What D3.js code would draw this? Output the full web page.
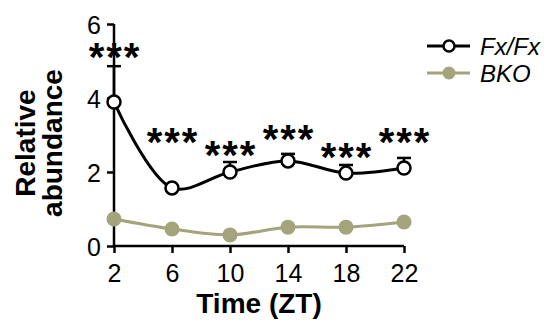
<!DOCTYPE html>
<html><head><meta charset="utf-8">
<script src="https://cdn.jsdelivr.net/npm/d3@7"></script>
<style>body{margin:0;background:#fff}</style>
</head><body><svg id="c" width="551" height="322"></svg>
<script>
const times = [2, 6, 10, 14, 18, 22];
const fxMean = [3.89, 1.57, 2.0, 2.30, 1.97, 2.11];
const fxErr = [0.97, 0.05, 0.27, 0.19, 0.22, 0.27];
const bkoMean = [0.73, 0.46, 0.30, 0.51, 0.51, 0.65];
const sigLabels = ["***", "***", "***", "***", "***", "***"];
const sigY = [5.24, 2.95, 2.59, 3.03, 2.54, 2.95];
const yTicks = [0, 2, 4, 6];
const seriesNames = ["Fx/Fx", "BKO"];

const svg = d3.select("#c");
const F = "Liberation Sans, Arial, Helvetica, sans-serif";
const x = d3.scaleLinear().domain([2, 22]).range([114, 404]);
const y = d3.scaleLinear().domain([0, 6]).range([246, 24]);
const green = "#a3a47c";

// axes
const yAx = svg.append("g").attr("transform", "translate(114,0)")
  .call(d3.axisLeft(y).tickValues(yTicks).tickFormat(d3.format("d")).tickSize(7).tickPadding(6));
const xAx = svg.append("g").attr("transform", "translate(0,246)")
  .call(d3.axisBottom(x).tickValues(times).tickFormat(d3.format("d")).tickSize(7).tickPadding(4));
[yAx, xAx].forEach(a => {
  a.select(".domain").attr("stroke", "#000").attr("stroke-width", 2.5);
  a.selectAll(".tick line").attr("stroke", "#000").attr("stroke-width", 2.5);
  a.selectAll("text").attr("font-family", F).attr("font-size", 25).attr("fill", "#000");
});
yAx.select(".domain").attr("d", `M0,${y(6)}V${y(0)}`);
yAx.selectAll(".tick text").attr("dy", "0.36em");
xAx.select(".domain").attr("d", `M${x(2)},0H${x(22)}`);
xAx.selectAll(".tick text").attr("y", 36).attr("dy", 0);

// lines
const line = d3.line().curve(d3.curveCatmullRom.alpha(0.5)).x(d => x(d[0])).y(d => y(d[1]));
svg.append("path").datum(times.map((t, i) => [t, bkoMean[i]]))
  .attr("d", line).attr("fill", "none").attr("stroke", green).attr("stroke-width", 3);
svg.append("path").datum(times.map((t, i) => [t, fxMean[i]]))
  .attr("d", line).attr("fill", "none").attr("stroke", "#000").attr("stroke-width", 3);

// error bars
times.forEach((t, i) => {
  const top = y(fxMean[i] + fxErr[i]);
  svg.append("line").attr("x1", x(t)).attr("x2", x(t)).attr("y1", y(fxMean[i])).attr("y2", top)
    .attr("stroke", "#000").attr("stroke-width", 2.5);
  svg.append("line").attr("x1", x(t) - 7).attr("x2", x(t) + 7).attr("y1", top).attr("y2", top)
    .attr("stroke", "#000").attr("stroke-width", 2.5);
});

// markers
svg.selectAll(".bko").data(times).enter().append("circle")
  .attr("cx", d => x(d)).attr("cy", (d, i) => y(bkoMean[i])).attr("r", 7.5).attr("fill", green);
svg.selectAll(".fx").data(times).enter().append("circle")
  .attr("cx", d => x(d)).attr("cy", (d, i) => y(fxMean[i])).attr("r", 6.5)
  .attr("fill", "#fff").attr("stroke", "#000").attr("stroke-width", 2.5);

// significance (each star placed separately, centred on the time point)
const starFs = 40, starGap = 17.5;
times.forEach((t, i) => {
  const chars = sigLabels[i].split("");
  chars.forEach((ch, k) => {
    svg.append("text")
      .attr("x", x(t) + (k - (chars.length - 1) / 2) * starGap)
      .attr("y", y(sigY[i]) + 0.47 * starFs)
      .attr("text-anchor", "middle").attr("font-family", F).attr("font-weight", "bold")
      .attr("font-size", starFs).text(ch);
  });
});

// axis titles
svg.append("text").attr("x", 259).attr("y", 313).attr("text-anchor", "middle")
  .attr("font-family", F).attr("font-weight", "bold").attr("font-size", 28).text("Time (ZT)");
const yt = svg.append("text").attr("transform", "translate(0,143) rotate(-90)")
  .attr("text-anchor", "middle").attr("font-family", F).attr("font-weight", "bold").attr("font-size", 28);
yt.append("tspan").attr("x", 0).attr("y", 35).text("Relative");
yt.append("tspan").attr("x", 0).attr("y", 62).text("abundance");

// legend
const leg = [{n: seriesNames[0], c: "#000", open: true, y: 46}, {n: seriesNames[1], c: green, open: false, y: 73}];
leg.forEach(l => {
  svg.append("line").attr("x1", 427).attr("x2", 470).attr("y1", l.y).attr("y2", l.y)
    .attr("stroke", l.c).attr("stroke-width", 3);
  svg.append("circle").attr("cx", 449).attr("cy", l.y).attr("r", l.open ? 5.5 : 6.5)
    .attr("fill", l.open ? "#fff" : l.c).attr("stroke", l.open ? "#000" : "none").attr("stroke-width", 2.5);
  svg.append("text").attr("x", 480).attr("y", l.y).attr("dy", "0.36em")
    .attr("font-family", F).attr("font-style", "italic").attr("font-size", 24).text(l.n);
});
</script></body></html>
